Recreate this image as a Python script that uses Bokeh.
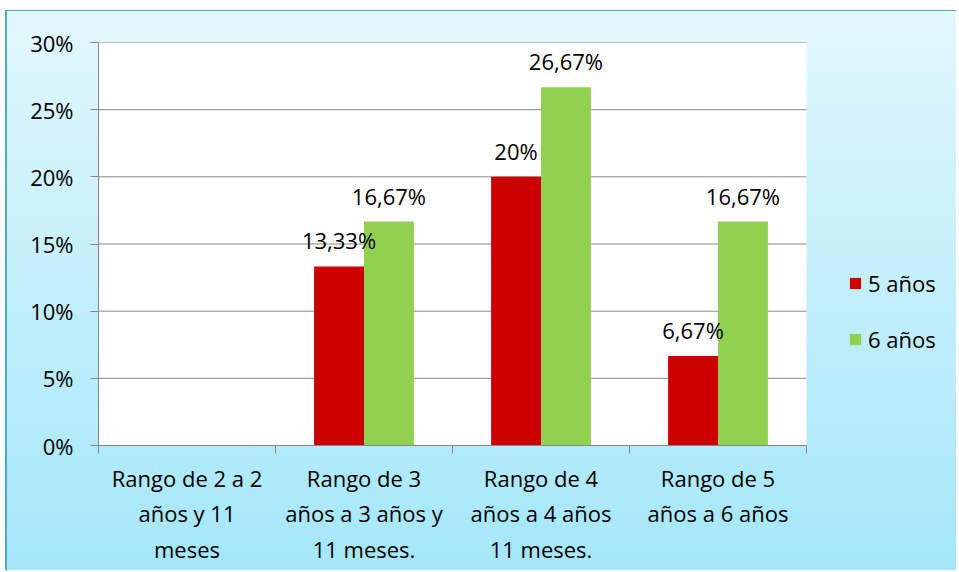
from bokeh.plotting import figure
from bokeh.models import (ColumnDataSource, LabelSet, Legend, LegendItem,
                          FixedTicker, NumeralTickFormatter, Range1d, LinearAxis)
from bokeh.core.properties import value
from bokeh.embed import file_html
from bokeh.resources import INLINE

# ---- data ----
categories = ["Rango de 2 a 2\naños y 11\nmeses",
              "Rango de 3\naños a 3 años y\n11 meses.",
              "Rango de 4\naños a 4 años\n11 meses.",
              "Rango de 5\naños a 6 años"]
series_names = ["5 años", "6 años"]
vals_5 = [0.0, 0.1333, 0.20, 0.0667]
vals_6 = [0.0, 0.1667, 0.2667, 0.1667]
y_ticks = [0, 0.05, 0.10, 0.15, 0.20, 0.25, 0.30]

RED = "#cc0000"
GREEN = "#92d050"
GRID = "#878787"
FONT = "Open Sans"
FS = "22px"

def fmt(v):
    pct = round(v * 100, 2)
    if abs(pct - round(pct)) < 1e-9:
        return f"{int(round(pct))}%"
    return f"{pct:.2f}".replace(".", ",") + "%"

n = len(categories)
bw = 0.282
centers = [i + 0.5 for i in range(n)]
x5 = [c - bw / 2 for c in centers]
x6 = [c + bw / 2 for c in centers]

src5 = ColumnDataSource(dict(x=x5, top=vals_5,
                             lab=[fmt(v) if v > 0 else "" for v in vals_5]))
src6 = ColumnDataSource(dict(x=x6, top=vals_6,
                             lab=[fmt(v) if v > 0 else "" for v in vals_6]))

# layout: plot area 708 px wide for the n categories; the frame continues to the
# right edge so that the legend can sit there without being clipped
W, H, LEFT, TOP, FRAME_H = 951, 560, 91, 31, 403
plot_px = 708
x_end = n * (W - LEFT) / plot_px

p = figure(width=W, height=H, output_backend="svg", toolbar_location=None,
           x_range=Range1d(0, x_end), y_range=Range1d(0, 0.30),
           min_border_left=LEFT, min_border_top=TOP, min_border_right=0,
           min_border_bottom=H - TOP - FRAME_H)
p.styles = {"background": "linear-gradient(#e2f7fd, #a4e7f9)",
            "border-top": "1px solid #4bacc6",
            "border-left": "2px solid #4bacc6",
            "margin-left": "5px", "margin-top": "10px"}
p.border_fill_alpha = 0
p.background_fill_alpha = 0
p.outline_line_color = None

# white plot area and its horizontal grid lines
p.quad(left=0, right=n, bottom=0, top=0.30, fill_color="white", line_color=None,
       level="image")
p.segment(x0=[0] * len(y_ticks), x1=[n] * len(y_ticks), y0=y_ticks, y1=y_ticks,
          line_color=GRID, line_width=1, level="underlay")

r5 = p.vbar(x="x", top="top", width=bw, source=src5, fill_color=RED, line_color=None)
r6 = p.vbar(x="x", top="top", width=bw, source=src6, fill_color=GREEN, line_color=None)

p.xgrid.grid_line_color = None
p.ygrid.grid_line_color = None

# y axis
p.yaxis.ticker = FixedTicker(ticks=y_ticks)
p.yaxis.formatter = NumeralTickFormatter(format="0%")
p.yaxis.major_tick_in = 0
p.yaxis.major_tick_out = 8
p.yaxis.minor_tick_line_color = None
p.yaxis.major_label_standoff = 17
p.yaxis.axis_line_color = GRID
p.yaxis.major_tick_line_color = GRID
p.yaxis.major_label_text_font = FONT
p.yaxis.major_label_text_font_size = FS
p.yaxis.major_label_text_color = "black"

# x axis: ticks at category boundaries, no labels
xa = p.xaxis[0]
xa.ticker = FixedTicker(ticks=list(range(n + 1)))
xa.bounds = (0, n)
xa.major_label_overrides = {i: "" for i in range(n + 1)}
xa.major_label_text_font_size = "1px"
xa.major_label_standoff = 0
xa.major_tick_in = 0
xa.major_tick_out = 8
xa.minor_tick_line_color = None
xa.axis_line_color = GRID
xa.major_tick_line_color = GRID

# category labels: one extra axis per text line
lines = [c.split("\n") for c in categories]
standoffs = [9, 2, 3]
for k in range(3):
    ax = LinearAxis(ticker=FixedTicker(ticks=centers),
                    major_label_overrides={c: (ln[k] if k < len(ln) else "")
                                           for c, ln in zip(centers, lines)},
                    axis_line_color=None, major_tick_line_color=None,
                    minor_tick_line_color=None, major_tick_out=0, major_tick_in=0,
                    major_label_standoff=standoffs[k],
                    major_label_text_font=FONT, major_label_text_font_size=FS,
                    major_label_text_color="black")
    p.add_layout(ax, "below")

# data labels
for src in (src5, src6):
    p.add_layout(LabelSet(x="x", y="top", text="lab", source=src, y_offset=26,
                          text_align="center", text_baseline="middle",
                          text_font=value(FONT), text_font_size=value(FS),
                          text_color="black"))

legend = Legend(items=[LegendItem(label=series_names[0], renderers=[r5]),
                       LegendItem(label=series_names[1], renderers=[r6])],
                location=(750, 91), orientation="vertical",
                glyph_width=14, glyph_height=14, label_height=30, spacing=26,
                label_standoff=6, padding=0, margin=0,
                border_line_color=None, background_fill_alpha=0,
                label_text_font=FONT, label_text_font_size=FS,
                label_text_color="black", label_text_baseline="middle")
p.add_layout(legend, "center")

open("out.html", "w").write(file_html(p, INLINE))
